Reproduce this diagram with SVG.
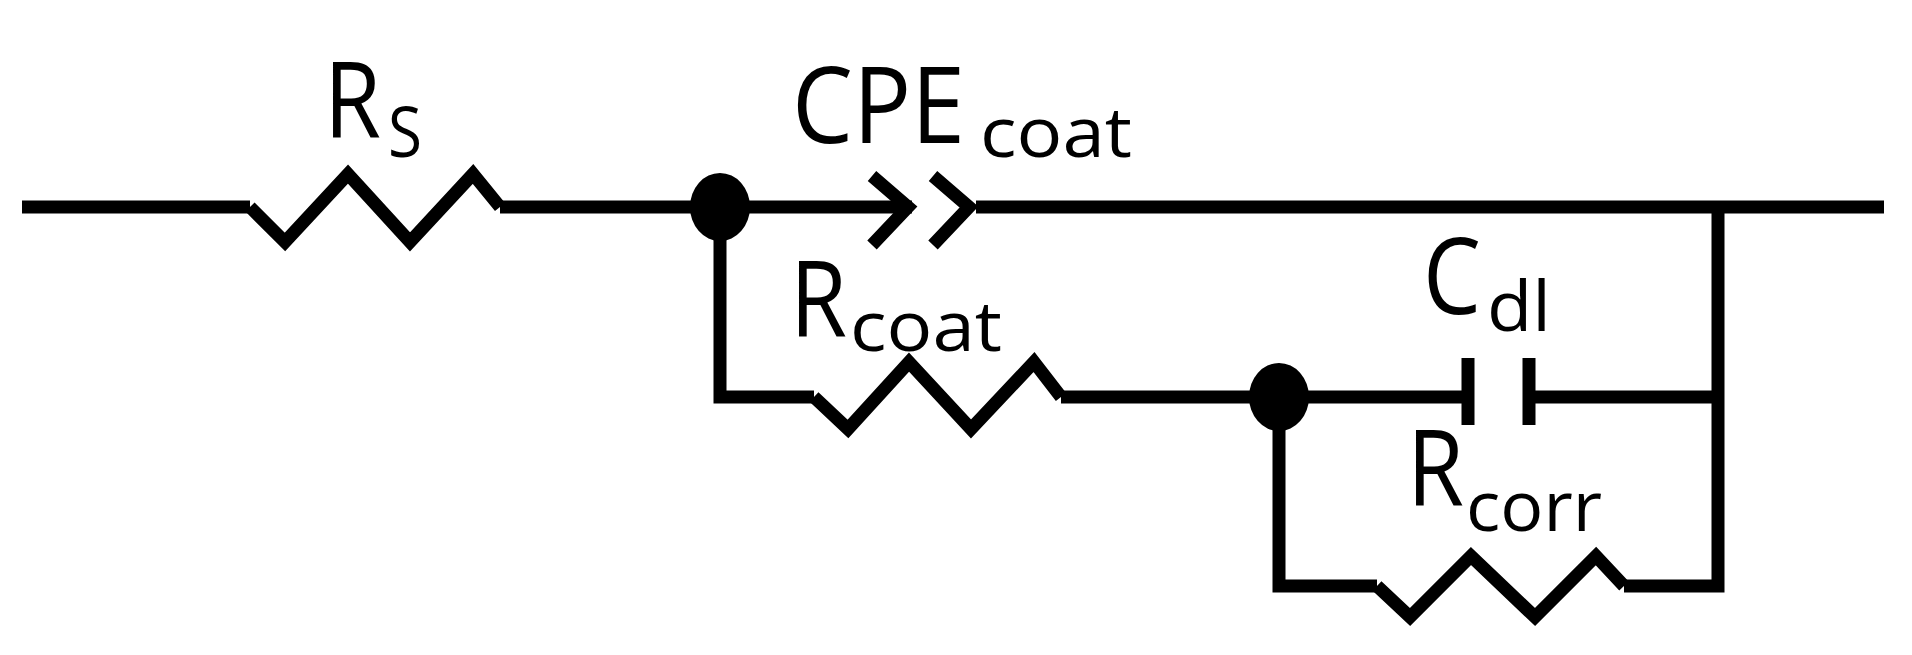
<svg xmlns="http://www.w3.org/2000/svg" width="1912" height="655" viewBox="0 0 1912 655">
<style>
.w{fill:none;stroke:#000;stroke-width:13;stroke-linejoin:miter;stroke-linecap:butt}
.t{font-family:"Open Sans","Liberation Sans",sans-serif;fill:#000}
.m{font-size:106px}
.s{font-size:69px}
</style>
<rect width="1912" height="655" fill="#fff"/>
<g id="connectors">
<path class="w" d="M22 207H250M500 207H912M976 207H1884M720 207V397H814M1061 397H1468M1529 397H1718M1718 207V586H1624M1377 586H1279V397"/>
</g>
<g id="Rs"><path class="w" d="M250 207L285 242L348 174L410 242L473 174L500 207"/>
<text class="t m" x="324" y="138" textLength="57" lengthAdjust="spacingAndGlyphs">R</text><text class="t s" x="388" y="157" textLength="34" lengthAdjust="spacingAndGlyphs">S</text></g>
<g id="CPEcoat"><path class="w" d="M872 176L908 207L872 245M933 176L969 207L933 245"/>
<text class="t m" x="792" y="143" textLength="173" lengthAdjust="spacingAndGlyphs">CPE</text><text class="t s" x="980" y="157" textLength="152" lengthAdjust="spacingAndGlyphs">coat</text></g>
<g id="Rcoat"><path class="w" d="M814 397L848 429L909 362L971 429L1034 362L1061 397"/>
<text class="t m" x="790" y="337" textLength="57" lengthAdjust="spacingAndGlyphs">R</text><text class="t s" x="850" y="351" textLength="152" lengthAdjust="spacingAndGlyphs">coat</text></g>
<g id="Cdl"><path class="w" d="M1468 358V425M1529 358V425"/>
<text class="t m" x="1423" y="314" textLength="58" lengthAdjust="spacingAndGlyphs">C</text><text class="t s" x="1487" y="331" textLength="64" lengthAdjust="spacingAndGlyphs">dl</text></g>
<g id="Rcorr"><path class="w" d="M1377 586L1410 617L1471 556L1535 617L1596 556L1624 586"/>
<text class="t m" x="1407" y="506" textLength="57" lengthAdjust="spacingAndGlyphs">R</text><text class="t s" x="1466" y="531" textLength="136" lengthAdjust="spacingAndGlyphs">corr</text></g>
<g id="n1"><ellipse cx="720" cy="207" rx="30" ry="34"/></g>
<g id="n2"><ellipse cx="1279" cy="397" rx="30" ry="34"/></g>
</svg>
